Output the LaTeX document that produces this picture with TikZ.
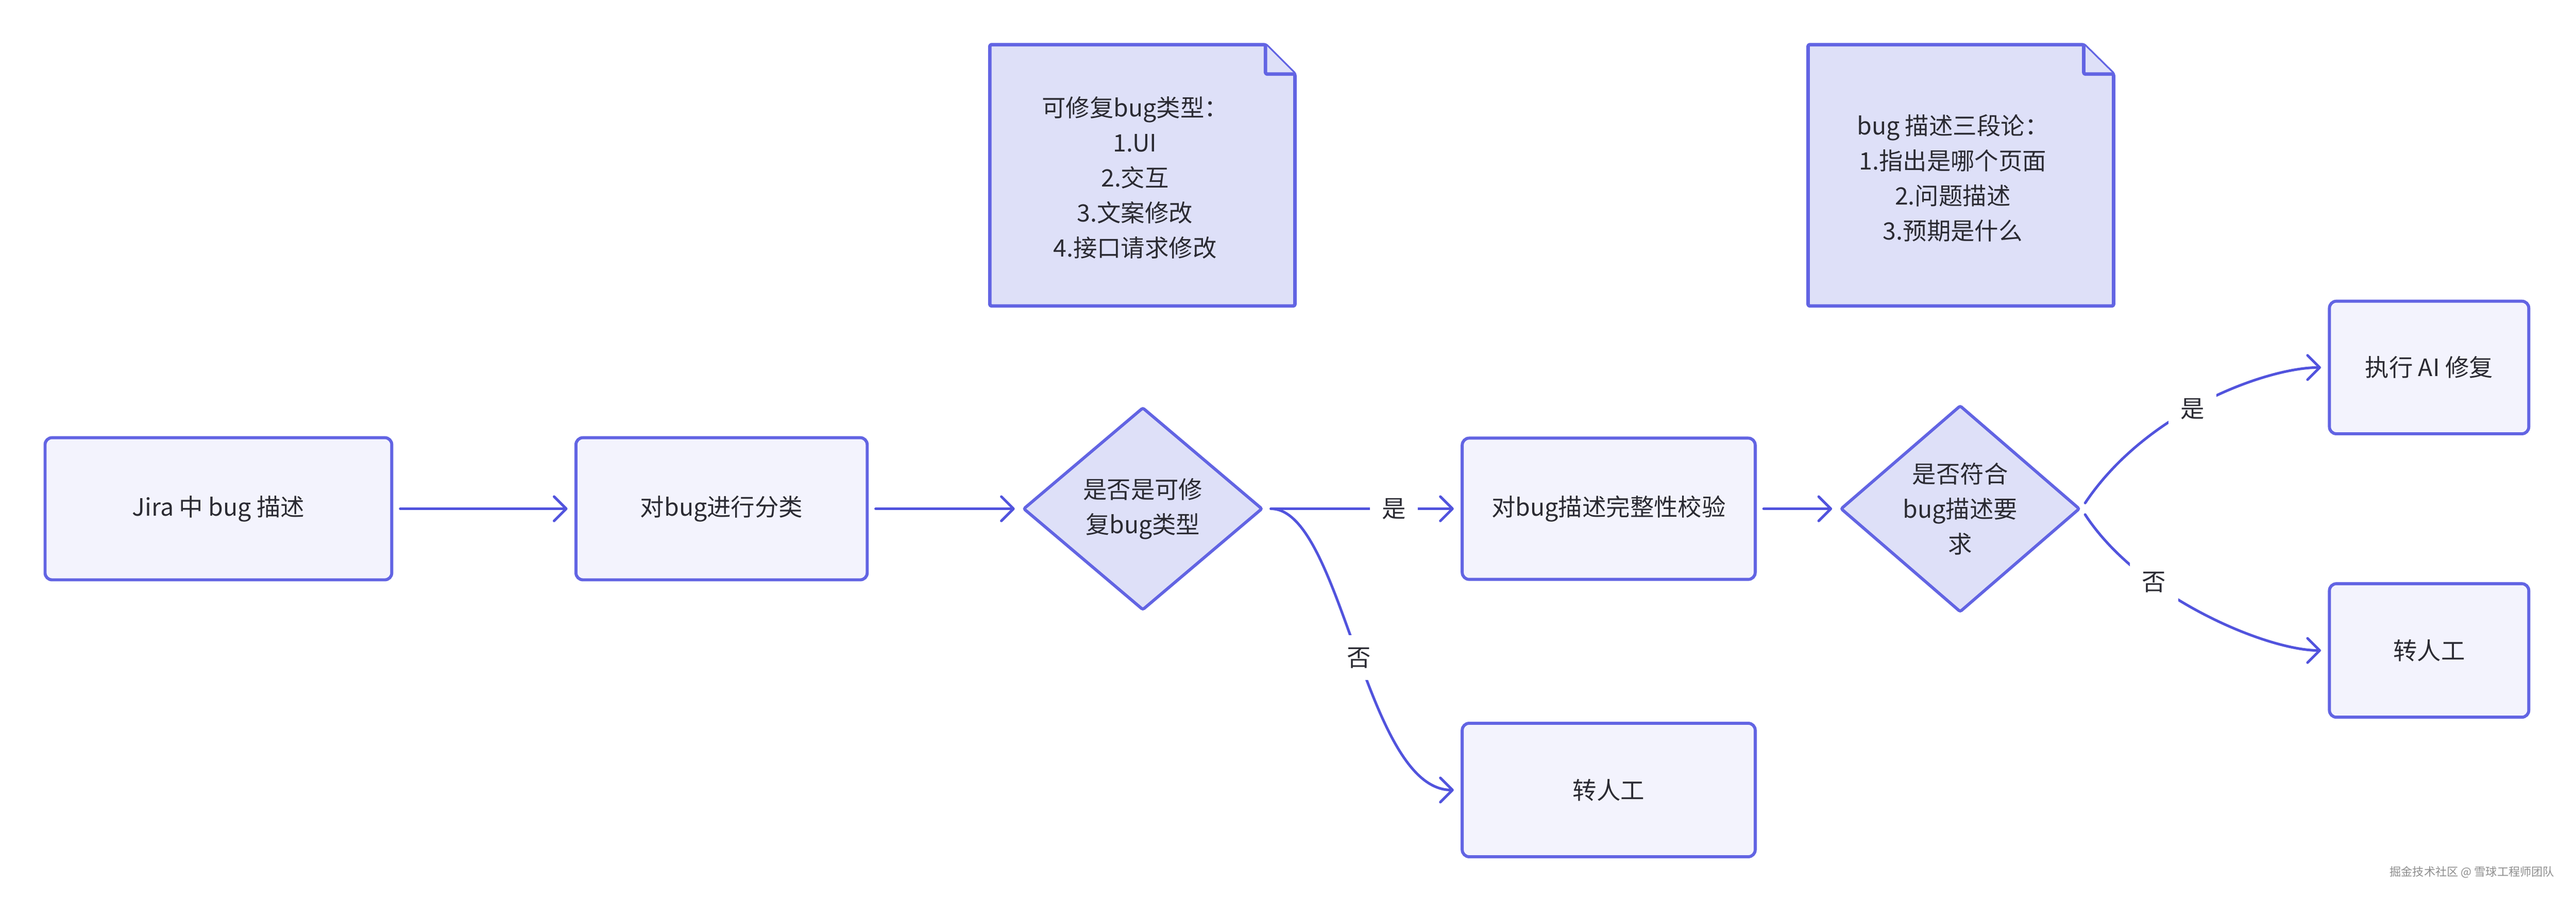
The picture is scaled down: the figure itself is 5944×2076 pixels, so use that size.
\documentclass[tikz,border=0pt]{standalone}
\usepackage{fontspec}
\setmainfont{Noto Sans CJK SC}
\usetikzlibrary{arrows.meta,shapes.geometric,calc}
\definecolor{bordc}{HTML}{6264E3}
\definecolor{edgec}{HTML}{5153DD}
\definecolor{boxfill}{HTML}{F3F3FD}
\definecolor{dfill}{HTML}{DEE0F8}
\definecolor{txt}{HTML}{2B2B33}
\definecolor{wm}{HTML}{8E8E8E}
\begin{document}
\begin{tikzpicture}[x=0.25pt, y=-0.25pt,
  font=\fontsize{13.8}{20.25}\selectfont, text=txt,
  procbox/.style={rectangle, draw=bordc, fill=boxfill, line width=1.75pt, rounded corners=4pt, align=center, inner sep=0pt},
  decbox/.style={diamond, draw=bordc, fill=dfill, line width=1.75pt, align=center, inner sep=0pt, rounded corners=1pt},
  notebox/.style={draw=bordc, fill=dfill, line width=2pt, line join=round, rounded corners=1pt},
  notetext/.style={align=center, inner sep=0pt},
  flow/.style={draw=edgec, line width=1.5pt, line cap=round, -{Straight Barb[length=7pt,width=14pt,round]}, shorten <=4pt, shorten >=4pt},
  elabel/.style={fill=white, inner sep=7pt, text=txt}
]
\fill[white] (0,0) rectangle (5944,2076);
\useasboundingbox (0,0) rectangle (5944,2076);

% notes
\draw[notebox] (2284,103) -- (2920,103) -- (2988,171) -- (2988,706) -- (2284,706) -- cycle;
\draw[notebox] (2920,103) -- (2920,171) -- (2988,171);
\node[notetext] (n1) at (2619,410) {可修复bug类型：\\1.UI\\2.交互\\3.文案修改\\4.接口请求修改};

\draw[notebox] (4172,103) -- (4808,103) -- (4877,171) -- (4877,706) -- (4172,706) -- cycle;
\draw[notebox] (4808,103) -- (4808,171) -- (4877,171);
\node[notetext] (n2) at (4506,411) {bug 描述三段论：\\1.指出是哪个页面\\2.问题描述\\3.预期是什么};

% process nodes
\node[procbox, minimum width=200pt, minimum height=82pt] (b1) at (504,1174) {Jira 中 bug 描述};
\node[procbox, minimum width=168pt, minimum height=82pt] (b2) at (1665,1174) {对bug进行分类};
\node[decbox, minimum width=138pt, minimum height=117pt] (d1) at (2637,1174) {是否是可修\\复bug类型};
\node[procbox, minimum width=169pt, minimum height=81.5pt] (b3) at (3712,1174) {对bug描述完整性校验};
\node[procbox, minimum width=169pt, minimum height=77pt] (b4) at (3712,1823) {转人工};
\node[decbox, minimum width=138pt, minimum height=119pt] (d2) at (4523,1174) {是否符合\\bug描述要\\求};
\node[procbox, minimum width=115pt, minimum height=76.5pt] (b5) at (5605,848) {执行 AI 修复};
\node[procbox, minimum width=115pt, minimum height=77pt] (b6) at (5605,1501) {转人工};

% connectors
\draw[flow] (b1.east) -- (b2.west);
\draw[flow] (b2.east) -- (d1.west);
\draw[flow] (d1.east) -- node[elabel, pos=0.66] {是} (b3.west);
\draw[flow] (d1.east) .. controls ($(d1.east)+(180,0)$) and ($(b4.west)+(-221,0)$) .. node[elabel, pos=0.52] {否} (b4.west);
\draw[flow] (b3.east) -- (d2.west);
\draw[flow] (d2.east) .. controls ($(d2.east)+(150,-225)$) and ($(b5.west)+(-141,0)$) .. node[elabel, pos=0.45] {是} (b5.west);
\draw[flow] (d2.east) .. controls ($(d2.east)+(134,205)$) and ($(b6.west)+(-141,0)$) .. node[elabel, pos=0.32] {否} (b6.west);

% watermark
\node[anchor=east, text=wm, font=\fontsize{6.6}{8}\selectfont, inner sep=0pt] (wmk) at (5895,2013) {掘金技术社区 @ 雪球工程师团队};
\end{tikzpicture}
\end{document}
